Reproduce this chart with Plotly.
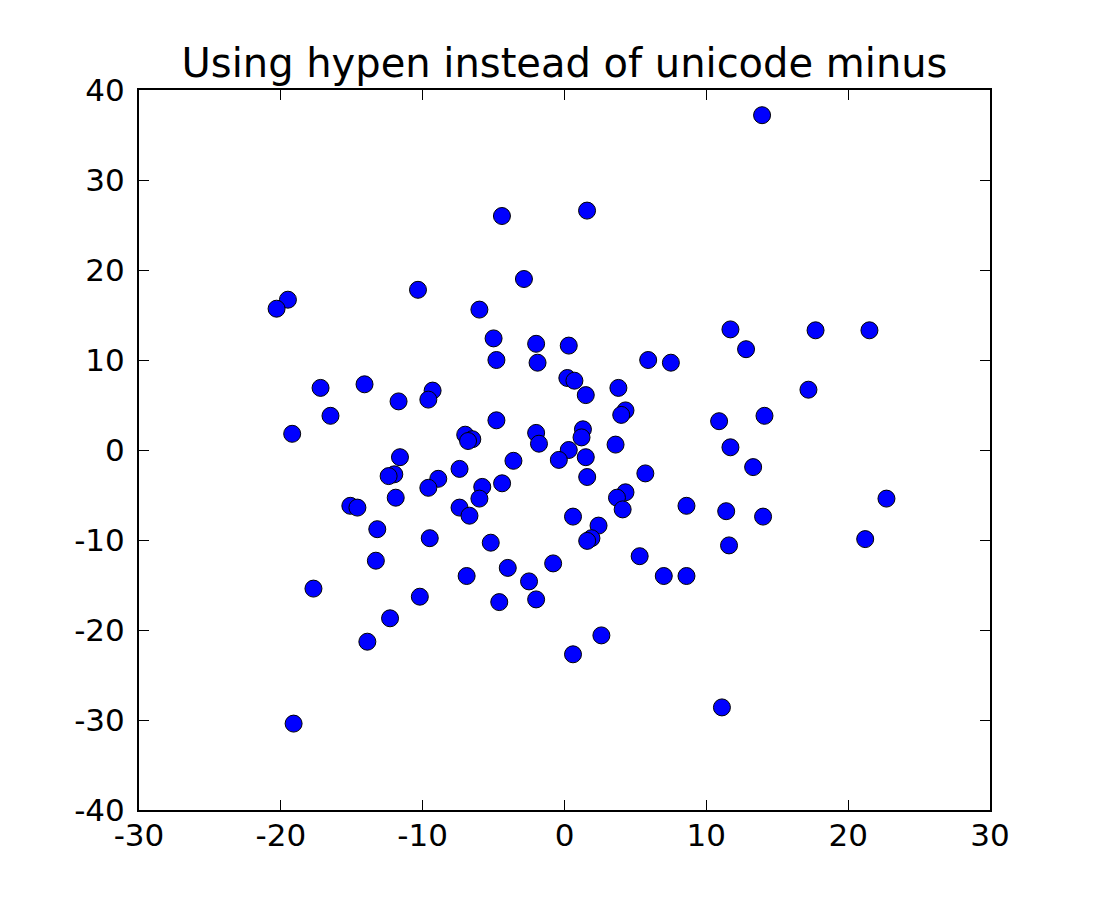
import plotly.graph_objects as go

x_vals = [13.93, 1.59, -4.41, -2.86, -10.33, -19.5, -20.3, -6.0, 11.7, 17.7,
          21.5, -5.0, -2.0, 0.3, 12.8, -4.8, 5.9, 7.5, -1.9, 0.2,
          0.7, -14.1, -17.2, 3.8, -9.3, 17.2, 1.5, -11.7, -9.6, 4.3,
          4.0, -16.5, 14.1, -4.8, 10.9, 1.3, -19.2, -7.0, -2.0, 1.2,
          -6.5, -6.8, -1.8, 3.6, 11.7, 0.3, -11.6, 1.5, -0.4, -3.6,
          13.3, -7.4, 5.7, -12.0, -12.4, 1.6, -8.9, -4.4, -5.8, -9.6,
          4.3, -11.9, 3.7, -6.0, 22.7, -15.1, -14.6, 8.6, 4.1, -7.4,
          11.4, -6.7, 0.6, 14.0, 2.4, -13.2, 1.9, -9.5, 1.6, 21.2,
          -5.2, 11.6, 5.3, -0.8, -13.3, -4.0, -6.9, 7.0, 8.6, -2.5,
          -17.7, -10.2, -2.0, -4.6, -12.3, 2.6, -13.9, 0.6, 11.1, -19.1]
y_vals = [37.2, 26.6, 26.0, 19.0, 17.8, 16.7, 15.7, 15.6, 13.4, 13.3,
          13.3, 12.4, 11.8, 11.6, 11.2, 10.0, 10.0, 9.7, 9.7, 8.0,
          7.7, 7.3, 6.9, 6.9, 6.6, 6.7, 6.1, 5.4, 5.6, 4.4,
          3.9, 3.8, 3.8, 3.3, 3.2, 2.3, 1.8, 1.7, 1.9, 1.4,
          1.2, 1.0, 0.7, 0.6, 0.3, 0.0, -0.8, -0.8, -1.1, -1.2,
          -1.9, -2.1, -2.6, -2.7, -2.9, -3.0, -3.2, -3.7, -4.1, -4.2,
          -4.7, -5.3, -5.3, -5.4, -5.4, -6.2, -6.4, -6.2, -6.6, -6.4,
          -6.8, -7.3, -7.4, -7.4, -8.4, -8.8, -9.8, -9.8, -10.1, -9.9,
          -10.3, -10.6, -11.8, -12.6, -12.3, -13.1, -14.0, -14.0, -14.0, -14.6,
          -15.4, -16.3, -16.6, -16.9, -18.7, -20.6, -21.3, -22.7, -28.6, -30.4]

x_ticks = [-30, -20, -10, 0, 10, 20, 30]
x_tick_labels = ["-30", "-20", "-10", "0", "10", "20", "30"]
y_ticks = [-40, -30, -20, -10, 0, 10, 20, 30, 40]
y_tick_labels = ["-40", "-30", "-20", "-10", "0", "10", "20", "30", "40"]

title_text = "Using hypen instead of unicode minus"

fig = go.Figure()
fig.add_trace(go.Scatter(
    x=x_vals, y=y_vals, mode="markers",
    marker=dict(size=17, color="#0000ff", line=dict(color="black", width=1)),
    showlegend=False,
))

axis_common = dict(
    showgrid=False, zeroline=False,
    showline=True, linecolor="black", linewidth=2, mirror="allticks",
    ticks="inside", ticklen=10, tickwidth=1, tickcolor="black",
    tickfont=dict(family="DejaVu Sans", size=31, color="black"),
)

fig.update_layout(
    width=1100, height=900,
    paper_bgcolor="white", plot_bgcolor="white",
    margin=dict(l=131, r=118, t=82, b=98, pad=0),
    font=dict(family="DejaVu Sans", color="black"),
    title=dict(text=title_text, x=0.5, xref="paper", xanchor="center",
               y=(900 - 55) / 900, yref="container", yanchor="middle",
               font=dict(family="DejaVu Sans", size=40, color="black")),
    xaxis=dict(range=[-30, 30], tickvals=x_ticks, ticktext=x_tick_labels,
               ticklabelstandoff=-3, **axis_common),
    yaxis=dict(range=[-40, 40], tickvals=y_ticks, ticktext=y_tick_labels,
               ticklabelstandoff=6, **axis_common),
)

fig.write_html("out.html")
